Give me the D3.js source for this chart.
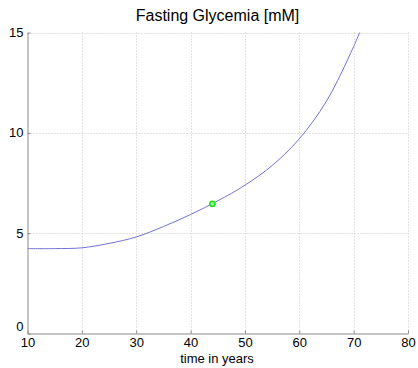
<!DOCTYPE html>
<html>
<head>
<meta charset="utf-8">
<script src="https://cdn.jsdelivr.net/npm/d3@7"></script>
<style>
  html, body { margin: 0; padding: 0; background: #fff; }
  svg { display: block; }
  text { font-family: "Liberation Sans", Arial, sans-serif; fill: #000; }
</style>
</head>
<body>
<svg id="chart" width="418" height="368"></svg>
<script>
// Fasting glycemia trajectory over age
const years = [10, 15, 20, 25, 30, 35, 40, 45, 50, 55, 60, 65, 70, 72];
const glycemia = [4.23, 4.23, 4.27, 4.49, 4.81, 5.33, 5.93, 6.61, 7.39, 8.37, 9.7, 11.58, 14.3, 15.6];
const markerYear = [44];
const markerValue = [6.46];
const xTicks = [10, 20, 30, 40, 50, 60, 70, 80];
const yTicks = [0, 5, 10, 15];

const svg = d3.select("#chart");
const plotLeft = 27.5, plotRight = 408, plotTop = 32.5, plotBottom = 333.5;

const x = d3.scaleLinear().domain([10, 80]).range([plotLeft, plotRight]);
const y = d3.scaleLinear().domain([0, 15]).range([plotBottom, plotTop]);

const axisColor = "#8a8a8a";
const gridColor = "#c4c4c4";

// dotted grid
const grid = svg.append("g");
grid.selectAll("line.vx").data(xTicks.filter(d => d > 10)).enter().append("line")
  .attr("x1", d => Math.round(x(d)) + 0.5).attr("x2", d => Math.round(x(d)) + 0.5)
  .attr("y1", plotTop).attr("y2", plotBottom)
  .attr("stroke", gridColor).attr("stroke-dasharray", "1,2");
grid.selectAll("line.hy").data(yTicks.filter(d => d > 0)).enter().append("line")
  .attr("y1", d => Math.round(y(d)) + 0.5).attr("y2", d => Math.round(y(d)) + 0.5)
  .attr("x1", plotLeft).attr("x2", plotRight)
  .attr("stroke", gridColor).attr("stroke-dasharray", "1,2");

// axes
const xAxis = d3.axisBottom(x).tickValues(xTicks).tickSizeInner(-3).tickSizeOuter(0).tickPadding(6);
const yAxis = d3.axisLeft(y).tickValues(yTicks).tickSizeInner(-3).tickSizeOuter(0).tickPadding(4);

const gx = svg.append("g").attr("transform", `translate(0,${plotBottom})`).call(xAxis);
const gy = svg.append("g").attr("transform", `translate(${plotLeft},0)`).call(yAxis);
[gx, gy].forEach(g => {
  g.select(".domain").attr("stroke", axisColor);
  g.selectAll(".tick line").attr("stroke", axisColor);
  g.selectAll(".tick text").attr("font-size", 13).attr("font-family", "Liberation Sans, Arial, sans-serif").attr("fill", "#000");
});
gx.selectAll(".tick text").attr("dy", "0.55em");
// the zero label sits a little higher so it clears the first x label
gy.selectAll(".tick text").attr("dy", d => d === 0 ? "-0.25em" : "0.3em");

// curve, clipped to the plot area
svg.append("clipPath").attr("id", "plot").append("rect")
  .attr("x", plotLeft).attr("y", plotTop).attr("width", plotRight - plotLeft).attr("height", plotBottom - plotTop);

const line = d3.line()
  .x((d, i) => x(years[i]))
  .y((d, i) => y(glycemia[i]))
  .curve(d3.curveCatmullRom.alpha(0.5));

svg.append("path")
  .datum(glycemia)
  .attr("clip-path", "url(#plot)")
  .attr("d", line)
  .attr("fill", "none")
  .attr("stroke", "#7272d4")
  .attr("stroke-width", 1);

// current point
svg.selectAll("circle.pt").data(markerYear).enter().append("circle")
  .attr("cx", (d, i) => x(d))
  .attr("cy", (d, i) => y(markerValue[i]))
  .attr("r", 2.6)
  .attr("fill", "#9cf79c")
  .attr("stroke", "#19e019")
  .attr("stroke-width", 1.6);

// title and axis label
svg.append("text")
  .attr("x", 217.5).attr("y", 21)
  .attr("text-anchor", "middle")
  .attr("font-size", 16)
  .text("Fasting Glycemia [mM]");

svg.append("text")
  .attr("x", 217).attr("y", 363)
  .attr("text-anchor", "middle")
  .attr("font-size", 13)
  .text("time in years");
</script>
</body>
</html>
